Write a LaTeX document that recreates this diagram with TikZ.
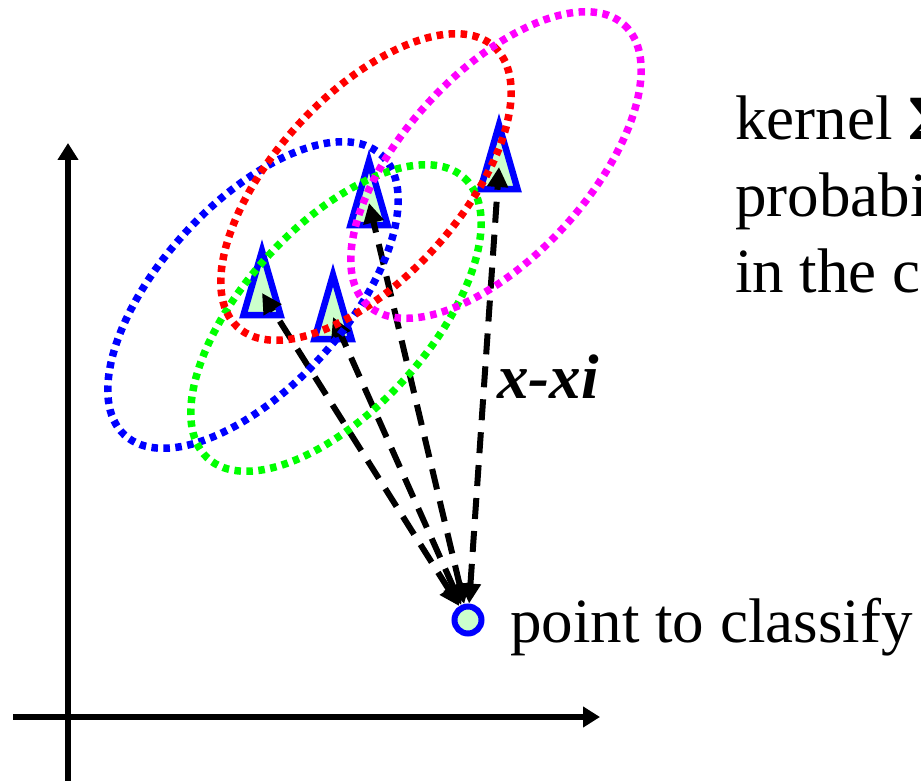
\documentclass[tikz,border=0pt]{standalone}
\usepackage{fontspec}
\setmainfont{Liberation Serif}
\usetikzlibrary{arrows.meta,positioning}
\definecolor{KernBlue}{RGB}{0,0,255}
\definecolor{KernRed}{RGB}{255,0,0}
\definecolor{KernGreen}{RGB}{0,255,0}
\definecolor{KernMagenta}{RGB}{255,0,255}
\definecolor{SampleFill}{RGB}{204,255,204}

\begin{document}
\begin{tikzpicture}[x=1pt,y=-1pt,
  axis/.style={line width=5.5pt,-{Triangle[length=17pt,width=20pt]}},
  sample/.style={draw=KernBlue,fill=SampleFill,line width=6.5pt},
  kern/.style={line width=7.5pt,dash pattern=on 6.5pt off 5.5pt},
  diff/.style={line width=6pt,dash pattern=on 21pt off 12pt,
    {Triangle[length=20pt,width=20pt]}-{Triangle[length=20pt,width=20pt]}},
  query/.style={circle,draw=KernBlue,fill=SampleFill,line width=6pt,minimum size=27pt,inner sep=0pt},
  label/.style={font=\fontsize{63}{76}\selectfont,inner sep=0pt,anchor=base west},
]
\useasboundingbox (0,0) rectangle (921,781);
% axes
\coordinate (ybot) at (68,795);
\coordinate (ytop) at (68,143);
\coordinate (xleft) at (13,717);
\coordinate (xright) at (600,717);
\draw[axis] (ybot) -- (ytop);
\draw[axis] (xleft) -- (xright);
% training samples (centroids)
\coordinate (s1) at (262,293);
\coordinate (s2) at (333,317);
\coordinate (s3) at (369,203);
\coordinate (s4) at (499,167);
\draw[sample,shift={(s1)}] (0,-42) -- (18.5,22) -- (-18.5,22) -- cycle;
\draw[sample,shift={(s2)}] (0,-42) -- (18.5,22) -- (-18.5,22) -- cycle;
\draw[sample,shift={(s3)}] (0,-42) -- (18.5,22) -- (-18.5,22) -- cycle;
\draw[sample,shift={(s4)}] (0,-42) -- (18.5,22) -- (-18.5,22) -- cycle;
% point to classify
\node[query] (pt) at (468,620) {};
\node[label] (ptlabel) at (510,642) {point to classify};
\draw[diff] (pt) -- (s1);
\draw[diff] (pt) -- (s2);
\draw[diff] (pt) -- (s3);
\draw[diff] (pt) -- (s4);
\node[label,font=\fontsize{63}{76}\selectfont\bfseries\itshape] (dx) at (497,398) {x-xi};
% kernels
\coordinate (kb) at (253,295);
\coordinate (kg) at (336,318);
\coordinate (kr) at (366,187);
\coordinate (km) at (496,165);
\draw[kern,KernBlue,rotate around={47.5:(kb)}] (kb) ellipse [x radius=190, y radius=92];
\draw[kern,KernGreen,rotate around={47.5:(kg)}] (kg) ellipse [x radius=190, y radius=92];
\draw[kern,KernRed,rotate around={47.5:(kr)}] (kr) ellipse [x radius=190, y radius=92];
\draw[kern,KernMagenta,rotate around={47.5:(km)}] (km) ellipse [x radius=190, y radius=92];
% caption on the right
\node[label] (k1) at (735,140) {kernel \textbf{Σ}};
\node[label] (k2) at (735,216) {probabi};
\node[label] (k3) at (735,292) {in the c};
\end{tikzpicture}
\end{document}
